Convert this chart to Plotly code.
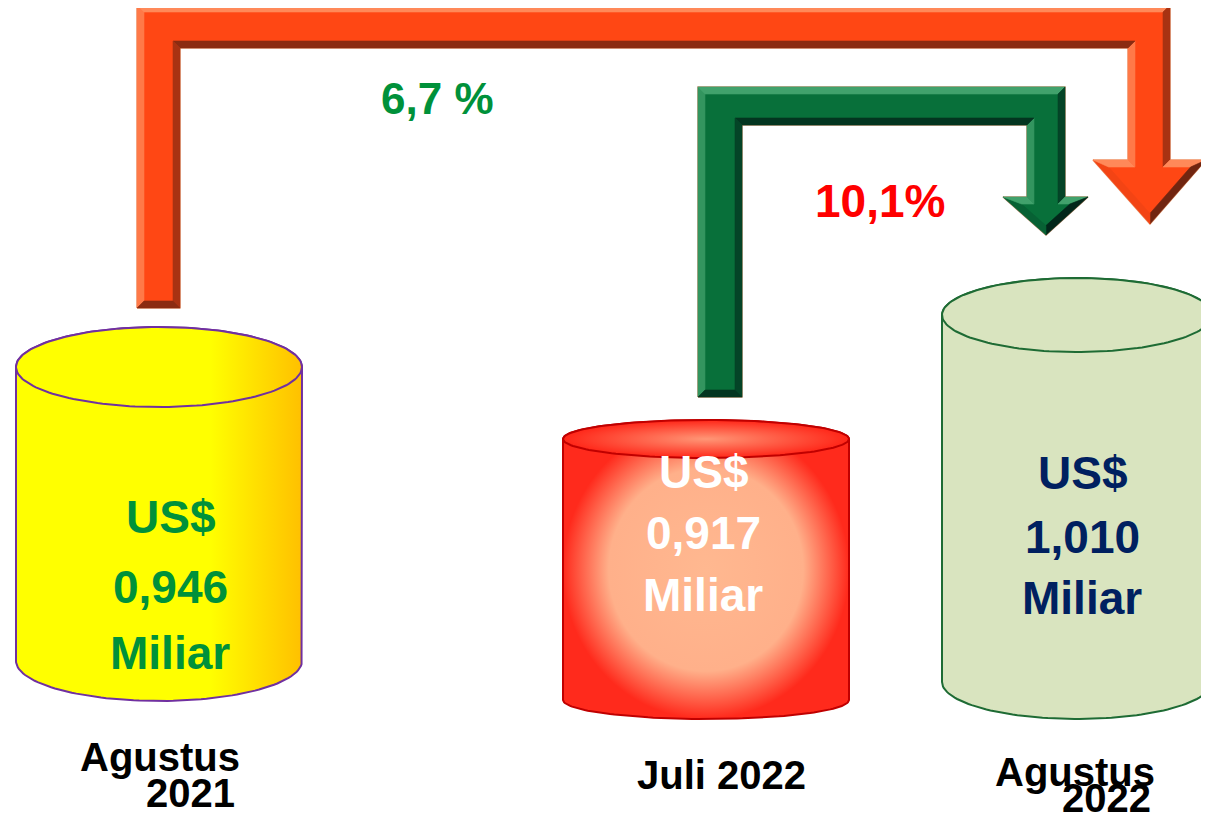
import numpy as np
import plotly.graph_objects as go

# data
periods = [["Agustus", "2021"], ["Juli 2022"], ["Agustus", "2022"]]
values = [0.946, 0.917, 1.010]
currency = "US$"
unit = "Miliar"
growth_labels = ["6,7 %", "10,1%"]

value_labels = [f"{v:.3f}".replace(".", ",") for v in values]

W, H = 1209, 823
PAD = 8  # default body margin of the html page
FONT = "Liberation Sans, Arial, sans-serif"

# cylinder geometry / style
cyl_geo = [
    dict(cx=159, rx=143, ytop=367, ybot=661, ry=40),
    dict(cx=706, rx=143, ytop=439, ybot=700, ry=19),
    dict(cx=1077, rx=135, ytop=315, ybot=682, ry=37),
]
body_fill = [
    dict(type="horizontal", colorscale=[[0, "#FFFF00"], [0.68, "#FFFF00"], [1, "#FFC000"]]),
    dict(type="radial", colorscale=[[0, "#FFB890"], [0.68, "#FFB08A"], [1, "#FF2A1C"]]),
    dict(type="none"),
]
top_fill = [
    body_fill[0],
    dict(type="radial", colorscale=[[0, "#FF9676"], [1, "#FF2618"]]),
    dict(type="none"),
]
cyl_color = ["#FFFF00", "#FF6A50", "#D9E4BF"]
cyl_line = ["#7030A0", "#C00000", "#1E6B34"]
txt_color = ["#00913A", "#FFFFFF", "#002060"]
txt_x = [170, 703, 1082]
txt_y = [[517, 587, 653], [472, 533, 595], [473, 537, 598]]
period_pos = [[(160, 757), (190, 793)], [(721, 775)], [(1075, 772), (1106, 798)]]

fig = go.Figure()


def ellipse_arc(cx, cy, rx, ry, t0, t1, n=80):
    t = np.linspace(t0, t1, n)
    return cx + rx * np.cos(t), cy + ry * np.sin(t)


def grad(f):
    return dict(fillgradient=f) if f["type"] != "none" else {}


for i, g in enumerate(cyl_geo):
    cx, rx, ry, yt, yb = g["cx"], g["rx"], g["ry"], g["ytop"], g["ybot"]
    bx1, by1 = ellipse_arc(cx, yt, rx, ry, np.pi, 2 * np.pi)
    bx2, by2 = ellipse_arc(cx, yb, rx, ry, 0, np.pi)
    bx = np.concatenate([bx1, bx2, bx1[:1]])
    by = np.concatenate([by1, by2, by1[:1]])
    fig.add_trace(go.Scatter(x=bx, y=by, mode="lines", fill="toself",
                             fillcolor=cyl_color[i], line=dict(color=cyl_line[i], width=2),
                             hoverinfo="skip", **grad(body_fill[i])))
    tx, ty = ellipse_arc(cx, yt, rx, ry, 0, 2 * np.pi, 160)
    fig.add_trace(go.Scatter(x=tx, y=ty, mode="lines", fill="toself",
                             fillcolor=cyl_color[i], line=dict(color=cyl_line[i], width=2),
                             hoverinfo="skip", **grad(top_fill[i])))


def bent_arrow(xl, xr, ybot, ytop, ybar, xo, xi, yh, hl, hr, tipx, tipy):
    xs = [xl, xl, xo, xo, hr, tipx, hl, xi, xi, xr, xr]
    ys = [ybot, ytop, ytop, yh, yh, tipy, yh, yh, ybar, ybar, ybot]
    return np.array(xs, float), np.array(ys, float)


def inset(xs, ys, d):
    n = len(xs)
    area = 0.5 * np.sum(xs * np.roll(ys, -1) - np.roll(xs, -1) * ys)
    sgn = 1 if area > 0 else -1
    normals, consts = [], []
    for i in range(n):
        j = (i + 1) % n
        dx, dy = xs[j] - xs[i], ys[j] - ys[i]
        L = np.hypot(dx, dy)
        nx, ny = sgn * -dy / L, sgn * dx / L
        normals.append((nx, ny))
        consts.append(nx * xs[i] + ny * ys[i] + d)
    qx, qy = np.zeros(n), np.zeros(n)
    for i in range(n):
        a = np.array([normals[i - 1], normals[i]])
        b = np.array([consts[i - 1], consts[i]])
        qx[i], qy[i] = np.linalg.solve(a, b)
    return qx, qy, normals


def mix(c1, c2, t):
    a = [int(c1[k:k + 2], 16) for k in (1, 3, 5)]
    b = [int(c2[k:k + 2], 16) for k in (1, 3, 5)]
    return "rgb(%d,%d,%d)" % tuple(round(a[k] + (b[k] - a[k]) * t) for k in range(3))


arrows = [
    dict(p=(137, 180, 308, 5, 48, 1170, 1128, 160, 1093, 1206, 1150, 224), bevel=7,
         main="#FF4714", light="#FF9A6A", dark="#6E2410", edge="#E9A47E"),
    dict(p=(698, 742, 397, 87, 125, 1065, 1027, 197, 1003, 1088, 1046, 235), bevel=7,
         main="#08703A", light="#4FAE78", dark="#02261A", edge="#B88A6A"),
]
light_dir = np.array([-0.6, -0.8])
for a in arrows:
    xs, ys = bent_arrow(*a["p"])
    qx, qy, normals = inset(xs, ys, a["bevel"])
    n = len(xs)
    fig.add_trace(go.Scatter(x=np.append(xs, xs[0]), y=np.append(ys, ys[0]), mode="lines",
                             fill="toself", fillcolor=a["main"],
                             line=dict(color=a["edge"], width=1.5), hoverinfo="skip"))
    for i in range(n):
        j = (i + 1) % n
        out = -np.array(normals[i])
        s = float(out @ light_dir)
        col = mix(a["main"], a["light"], s) if s >= 0 else mix(a["main"], a["dark"], -s)
        fig.add_trace(go.Scatter(x=[xs[i], xs[j], qx[j], qx[i], xs[i]],
                                 y=[ys[i], ys[j], qy[j], qy[i], ys[i]],
                                 mode="lines", fill="toself", fillcolor=col,
                                 line=dict(width=0.6, color=col), hoverinfo="skip"))

ann = []
for i in range(3):
    for line, y in zip([currency, value_labels[i], unit], txt_y[i]):
        ann.append(dict(x=txt_x[i], y=y, text=f"<b>{line}</b>", showarrow=False,
                        font=dict(family=FONT, size=46, color=txt_color[i])))
    for line, (x, y) in zip(periods[i], period_pos[i]):
        ann.append(dict(x=x, y=y, text=f"<b>{line}</b>", showarrow=False,
                        font=dict(family=FONT, size=40, color="#000000")))

ann.append(dict(x=437, y=98, text=f"<b>{growth_labels[0]}</b>", showarrow=False,
                font=dict(family=FONT, size=44, color="#00913A")))
ann.append(dict(x=880, y=201, text=f"<b>{growth_labels[1]}</b>", showarrow=False,
                font=dict(family=FONT, size=46, color="#FF0000")))

# page has an 8px body margin: the plot spans page pixels 8..1209 horizontally
PH = H - 2 * PAD - 3
fig.update_layout(
    width=W - PAD, height=PH,
    margin=dict(l=0, r=0, t=0, b=0),
    paper_bgcolor="white", plot_bgcolor="white",
    showlegend=False,
    xaxis=dict(range=[PAD, W], visible=False, fixedrange=True),
    yaxis=dict(range=[PAD + PH, PAD], visible=False, fixedrange=True),
    annotations=ann,
)

fig.write_html("out.html")
